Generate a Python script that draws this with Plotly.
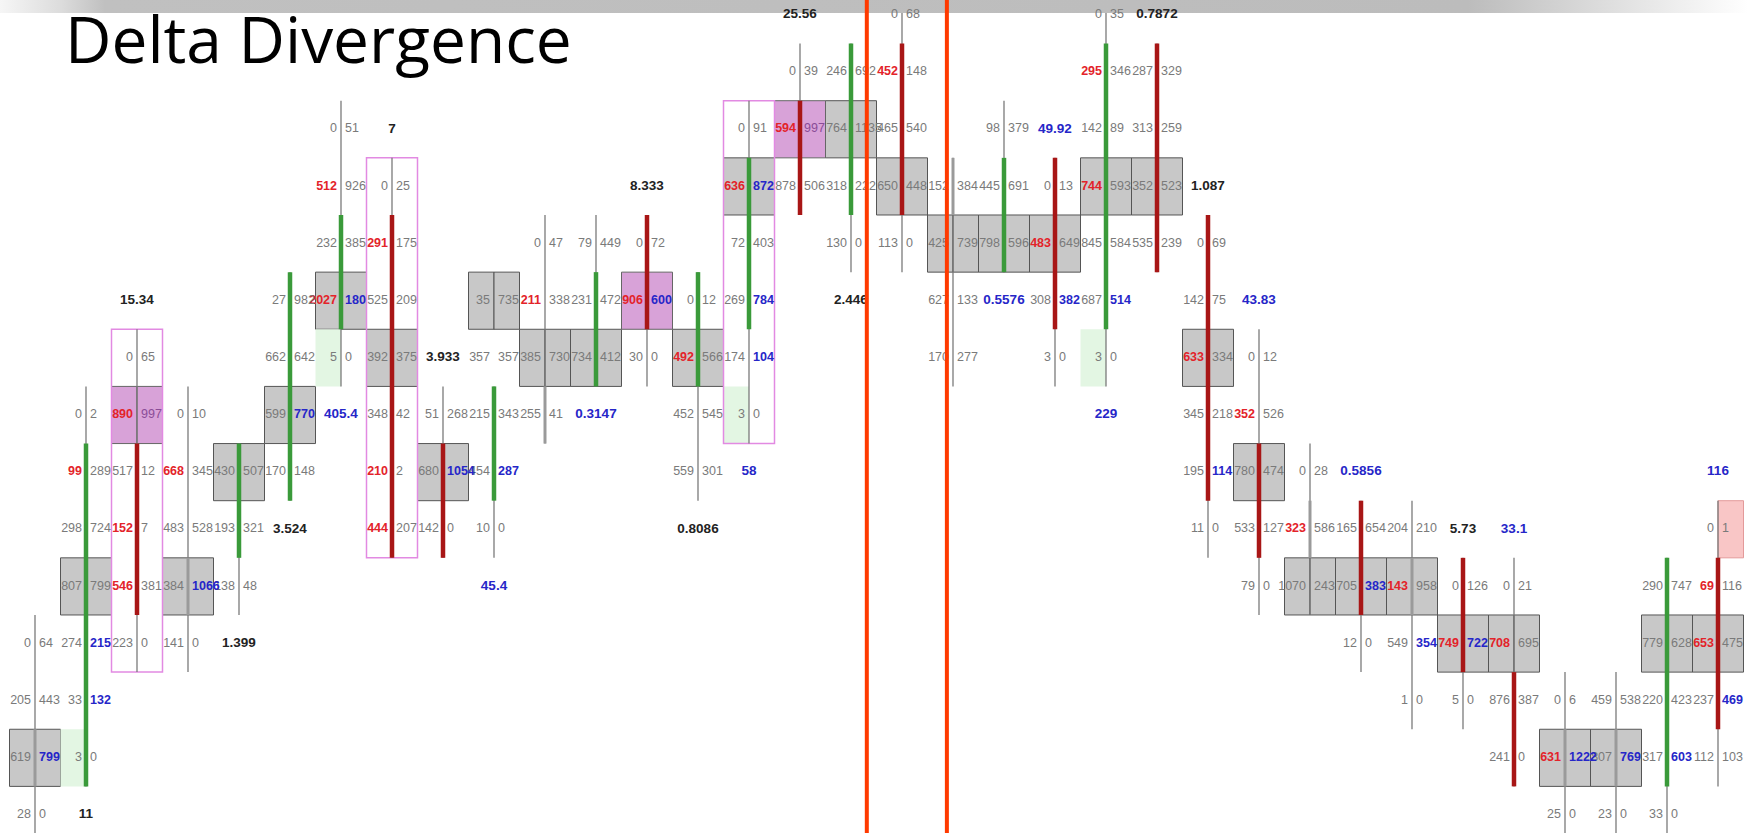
import plotly.graph_objects as go

# ---------------------------------------------------------------
# footprint data: one entry per candle (left to right)
# rows are price levels counted from the top of the chart
FIRST_ROW = [11, 7, 6, 7, 8, 5, 2, 3, 7, 5, 4, 4, 4, 5, 2, 1, 1, 0, 3, 2, 3, 0, 1,
             4, 6, 8, 9, 9, 10, 10, 12, 12, 10, 9]

BID = [
  [0, 205, 619, 28], [0, 99, 298, 807, 274, 33, 3], [0, 890, 517, 152, 546, 223],
  [0, 668, 483, 384, 141], [430, 193, 138], [27, 662, 599, 170], [0, 512, 232, 2027, 5],
  [0, 291, 525, 392, 348, 210, 444], [51, 680, 142], [35, 357, 215, 454, 10],
  [0, 211, 385, 255], [79, 231, 734], [0, 906, 30], [0, 492, 452, 559],
  [0, 636, 72, 269, 174, 3], [0, 594, 878], [246, 764, 318, 130], [0, 452, 465, 650, 113],
  [152, 425, 627, 170], [98, 445, 798], [0, 483, 308, 3], [0, 295, 142, 744, 845, 687, 3],
  [287, 313, 352, 535], [0, 142, 633, 345, 195, 11], [0, 352, 780, 533, 79], [0, 323, 1070],
  [165, 705, 12], [204, 143, 549, 1], [0, 749, 5], [0, 708, 876, 241], [0, 631, 25],
  [459, 807, 23], [290, 779, 220, 317, 33], [0, 69, 653, 237, 112],
]
ASK = [
  [64, 443, 799, 0], [2, 289, 724, 799, 215, 132, 0], [65, 997, 12, 7, 381, 0],
  [10, 345, 528, 1066, 0], [507, 321, 48], [982, 642, 770, 148], [51, 926, 385, 180, 0],
  [25, 175, 209, 375, 42, 2, 207], [268, 1054, 0], [735, 357, 343, 287, 0],
  [47, 338, 730, 41], [449, 472, 412], [72, 600, 0], [12, 566, 545, 301],
  [91, 872, 403, 784, 104, 0], [39, 997, 506], [692, 1135, 222, 0], [68, 148, 540, 448, 0],
  [384, 739, 133, 277], [379, 691, 596], [13, 649, 382, 0], [35, 346, 89, 593, 584, 514, 0],
  [329, 259, 523, 239], [69, 75, 334, 218, 114, 0], [12, 526, 474, 127, 0], [28, 586, 243],
  [654, 383, 0], [210, 958, 354, 0], [126, 722, 0], [21, 695, 387, 0], [6, 1222, 0],
  [538, 769, 0], [747, 628, 423, 603, 0], [1, 116, 475, 469, 103],
]

# candle wick (top row, bottom row) and body (top row, bottom row, direction)
WICK = [(11, 14), (7, 13), (6, 11), (7, 11), (8, 10), (5, 8), (2, 6), (3, 9), (7, 9), (7, 9),
        (4, 7), (4, 6), (4, 6), (5, 8), (2, 7), (1, 3), (1, 4), (0, 4), (3, 6), (2, 4),
        (3, 6), (0, 6), (1, 4), (4, 9), (6, 10), (8, 10), (9, 11), (9, 12), (10, 12),
        (10, 13), (12, 14), (12, 14), (10, 14), (9, 13)]
BODY = [(13, 13, 'n'), (8, 13, 'g'), (8, 10, 'r'), (10, 10, 'n'), (8, 9, 'g'), (5, 8, 'g'),
        (4, 5, 'g'), (4, 9, 'r'), (8, 9, 'r'), (7, 8, 'g'), (7, 7, 'n'), (5, 6, 'g'),
        (4, 5, 'r'), (5, 6, 'g'), (3, 5, 'g'), (2, 3, 'r'), (1, 3, 'g'), (1, 3, 'r'),
        (3, 3, 'n'), (3, 4, 'g'), (3, 5, 'r'), (1, 5, 'g'), (1, 4, 'r'), (4, 8, 'r'),
        (8, 9, 'r'), (9, 9, 'n'), (9, 10, 'r'), (10, 10, 'n'), (10, 11, 'r'), (12, 13, 'r'),
        (13, 13, 'n'), (13, 13, 'n'), (10, 13, 'g'), (10, 12, 'r')]

# highlighted cells (candle, row)
RED_BID = [(1, 8), (2, 7), (2, 9), (2, 10), (3, 8), (6, 3), (6, 5), (7, 4), (7, 8), (7, 9),
           (10, 5), (12, 5), (13, 6), (14, 3), (15, 2), (17, 1), (20, 4), (21, 1), (21, 3),
           (23, 6), (24, 7), (25, 9), (27, 10), (28, 11), (29, 11), (30, 13), (33, 10), (33, 11)]
BLUE_ASK = [(0, 13), (1, 11), (1, 12), (3, 10), (5, 7), (6, 5), (8, 8), (9, 8), (12, 5),
            (14, 3), (14, 5), (14, 6), (20, 5), (21, 5), (23, 8), (26, 10), (27, 11),
            (28, 11), (30, 13), (31, 13), (32, 13), (33, 12)]
PURPLE_ASK = [(2, 7), (15, 2)]

GRAY_CELLS = [(0, 13), (1, 10), (3, 10), (4, 8), (5, 7), (6, 5), (7, 6), (8, 8), (9, 5),
              (10, 6), (11, 6), (13, 6), (14, 3), (16, 2), (17, 3), (18, 4), (19, 4), (20, 4),
              (21, 3), (22, 3), (23, 6), (24, 8), (25, 10), (26, 10), (27, 10), (28, 11),
              (29, 11), (30, 13), (31, 13), (32, 11), (33, 11)]
PINK_CELLS = [(2, 7), (12, 5), (15, 2)]
GREEN_BID_CELLS = [(1, 13), (6, 6), (14, 7), (21, 6)]
RED_ASK_CELLS = [(33, 9)]
PINK_FRAMES = [(2, 6, 11), (7, 3, 9), (14, 2, 7)]

# per-candle delta ratio labels
LABEL_COL = [1, 2, 4, 5, 6, 7, 8, 9, 11, 12, 13, 14, 15, 16, 19, 20, 21, 22, 23, 24, 26, 28, 29, 33]
LABEL_ROW = [14, 5, 11, 9, 7, 2, 6, 10, 7, 3, 9, 8, 0, 5, 5, 2, 7, 0, 3, 5, 8, 9, 9, 8]
LABEL_TEXT = ['11', '15.34', '1.399', '3.524', '405.4', '7', '3.933', '45.4', '0.3147', '8.333',
              '0.8086', '58', '25.56', '2.446', '0.5576', '49.92', '229', '0.7872', '1.087',
              '43.83', '0.5856', '5.73', '33.1', '116']
LABEL_BLUE = [0, 0, 0, 0, 1, 0, 0, 1, 1, 0, 0, 1, 0, 0, 1, 1, 1, 0, 0, 1, 1, 0, 1, 1]

# divergence markers (candle position)
MARK_X = [16.31, 17.88]

############################################################
W, H = 1748, 833
CW, RH = 51.0, 57.14          # pixels per candle / per row
X0, X1 = -35 / CW, (W - 35) / CW
Y0, Y1 = -15 / RH, (H - 15) / RH
OFF = 4 / CW

fig = go.Figure()
shapes = []

def rect(x0, x1, y0, y1, fill, line='#555555', lw=1):
  shapes.append(dict(type='rect', xref='x', yref='y', x0=x0, x1=x1, y0=y0, y1=y1,
                     fillcolor=fill, line=dict(color=line, width=lw), layer='below'))

for c, r in GRAY_CELLS:
  rect(c - 0.5, c, r - 0.5, r + 0.5, '#c8c8c8')
  rect(c, c + 0.5, r - 0.5, r + 0.5, '#c8c8c8')
for c, r in PINK_CELLS:
  rect(c - 0.5, c, r - 0.5, r + 0.5, '#d8a2d8', '#666666')
  rect(c, c + 0.5, r - 0.5, r + 0.5, '#d8a2d8', '#666666')
for c, r in GREEN_BID_CELLS:
  rect(c - 0.5, c, r - 0.5, r + 0.5, '#e3f6e3', '#e3f6e3', 0)
for c, r in RED_ASK_CELLS:
  rect(c, c + 0.5, r - 0.5, r + 0.5, '#f9c6c6', '#e39a9a')
for c, r0, r1 in PINK_FRAMES:
  rect(c - 0.5, c + 0.5, r0 - 0.5, r1 + 0.5, 'rgba(0,0,0,0)', '#e28ae2', 1.5)

for c, (wt, wb) in enumerate(WICK):
  shapes.append(dict(type='line', xref='x', yref='y', x0=c, x1=c, y0=wt - 0.5, y1=wb + 0.5,
                     line=dict(color='#7a7a7a', width=1.3), layer='below'))
body_color = {'g': '#3a9a3a', 'r': '#a81616', 'n': '#9a9a9a'}
body_width = {'g': 4.5, 'r': 4.5, 'n': 3}
for c, (bt, bb, d) in enumerate(BODY):
  shapes.append(dict(type='line', xref='x', yref='y', x0=c, x1=c, y0=bt - 0.5, y1=bb + 0.5,
                     line=dict(color=body_color[d], width=body_width[d]), layer='below'))

for mx in MARK_X:
  shapes.append(dict(type='line', xref='x', yref='paper', x0=mx, x1=mx, y0=0, y1=1,
                     line=dict(color='#ff3a00', width=4), layer='above'))

# top banner
fig.add_trace(go.Scatter(
  x=[X0, X1, X1, X0, X0], y=[Y0, Y0, Y0 + 13 / RH, Y0 + 13 / RH, Y0],
  mode='lines', line=dict(width=0), fill='toself',
  fillgradient=dict(type='horizontal', colorscale=[
    [0, '#f6f6f6'], [0.035, '#dcdcdc'], [0.06, '#c0c0c0'], [0.84, '#bcbcbc'],
    [0.93, '#e2e2e2'], [1, '#ffffff']]),
  hoverinfo='skip', showlegend=False,
))

# bid / ask numbers
lx, ly, lt, lc = [], [], [], []
rx, ry, rt, rc = [], [], [], []
for c in range(len(BID)):
  for i, (b, a) in enumerate(zip(BID[c], ASK[c])):
    r = FIRST_ROW[c] + i
    lx.append(c - OFF); ly.append(r)
    if (c, r) in RED_BID:
      lt.append('<b>%d</b>' % b); lc.append('#e3232a')
    else:
      lt.append(str(b)); lc.append('#7a7a7a')
    rx.append(c + OFF); ry.append(r)
    if (c, r) in BLUE_ASK:
      rt.append('<b>%d</b>' % a); rc.append('#2626c8')
    elif (c, r) in PURPLE_ASK:
      rt.append(str(a)); rc.append('#8a4c97')
    else:
      rt.append(str(a)); rc.append('#7a7a7a')

num_font = 'Liberation Sans, Arial, sans-serif'
fig.add_trace(go.Scatter(x=lx, y=ly, text=lt, mode='text', textposition='middle left',
                         textfont=dict(family=num_font, size=12.5, color=lc),
                         hoverinfo='skip', showlegend=False, cliponaxis=False))
fig.add_trace(go.Scatter(x=rx, y=ry, text=rt, mode='text', textposition='middle right',
                         textfont=dict(family=num_font, size=12.5, color=rc),
                         hoverinfo='skip', showlegend=False, cliponaxis=False))
fig.add_trace(go.Scatter(
  x=LABEL_COL, y=LABEL_ROW, text=['<b>%s</b>' % t for t in LABEL_TEXT], mode='text',
  textposition='middle center',
  textfont=dict(family=num_font, size=13.5,
                color=['#2626c8' if b else '#222222' for b in LABEL_BLUE]),
  hoverinfo='skip', showlegend=False, cliponaxis=False))

fig.update_layout(
  width=W, height=H,
  margin=dict(l=0, r=0, t=0, b=0),
  paper_bgcolor='white', plot_bgcolor='white',
  showlegend=False,
  shapes=shapes,
  xaxis=dict(range=[X0, X1], visible=False, fixedrange=True),
  yaxis=dict(range=[Y1, Y0], visible=False, fixedrange=True),
  annotations=[dict(
    text='Delta Divergence', xref='paper', yref='paper', x=63 / W, y=1 - 38 / H,
    xanchor='left', yanchor='middle', showarrow=False,
    font=dict(family='Open Sans', size=64, color='#000000'),
  )],
)

fig.write_html("out.html", config={'displayModeBar': False},
               post_script="document.body.style.margin='0';document.body.style.overflow='hidden';")
